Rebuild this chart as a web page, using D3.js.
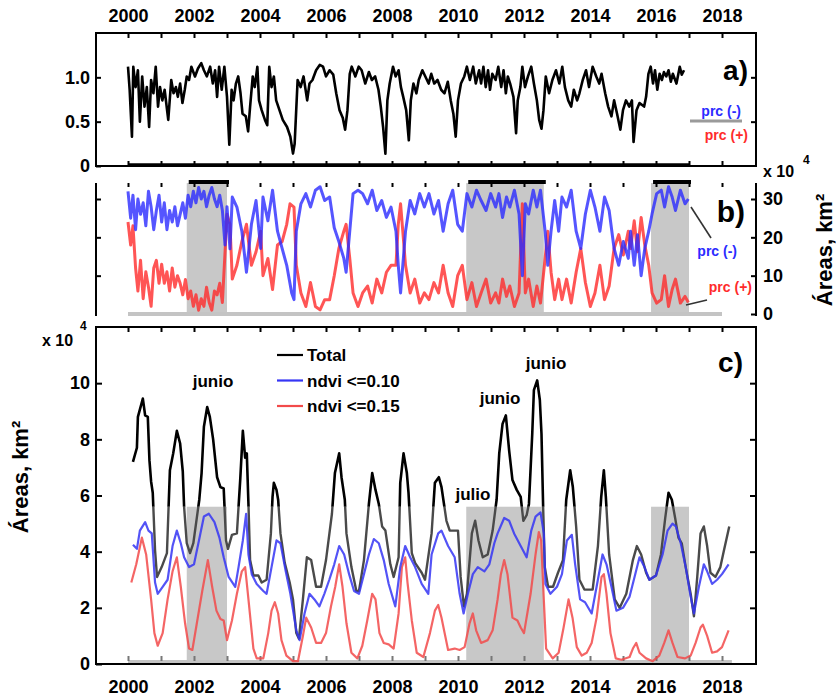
<!DOCTYPE html>
<html>
<head>
<meta charset="utf-8">
<script src="https://cdn.jsdelivr.net/npm/d3@7"></script>
<style>
  body { margin: 0; background: #fff; }
  svg { display: block; font-family: "Liberation Sans", Arial, sans-serif; font-weight: bold; }
</style>
</head>
<body>
<svg id="chart" width="836" height="698"></svg>
<script>
// ---- data ----------------------------------------------------------
const yearLabels = [2000, 2002, 2004, 2006, 2008, 2010, 2012, 2014, 2016, 2018];
const yearMarks = d3.range(2000, 2019);
const ratioTicks = [0, 0.5, 1.0];
const areaTicksB = [0, 10, 20, 30];
const areaTicksC = [0, 2, 4, 6, 8, 10];

// shaded periods [start, end]
const periods = [[2001.78, 2003.0], [2010.25, 2012.6], [2015.85, 2017.0]];

// panel a: ratio series
const ratio = [
  [2000.00,1.12],[2000.05,0.86],[2000.12,0.33],[2000.16,1.12],[2000.23,0.89],[2000.30,1.08],[2000.36,0.50],[2000.43,1.01],
  [2000.50,0.67],[2000.57,0.89],[2000.64,0.44],[2000.70,0.97],[2000.77,0.82],[2000.84,1.12],[2000.91,0.67],[2000.97,0.89],
  [2001.04,0.74],[2001.11,0.86],[2001.22,0.52],[2001.31,0.97],[2001.38,0.82],[2001.45,0.89],[2001.51,0.78],[2001.58,0.93],
  [2001.65,0.71],[2001.72,0.86],[2001.78,1.01],[2001.85,0.97],[2001.92,1.12],[2002.03,1.01],[2002.12,1.10],[2002.22,1.16],
  [2002.30,1.08],[2002.39,1.01],[2002.49,1.12],[2002.57,0.93],[2002.64,1.08],[2002.70,0.78],[2002.76,1.12],[2002.84,0.86],
  [2002.92,1.12],[2003.00,0.78],[2003.07,0.24],[2003.14,0.86],[2003.20,0.74],[2003.27,0.93],[2003.34,1.01],[2003.41,0.82],
  [2003.47,0.59],[2003.57,0.56],[2003.64,0.39],[2003.70,0.67],[2003.78,1.01],[2003.84,0.89],[2003.92,1.12],[2003.97,0.74],
  [2004.05,0.63],[2004.15,0.52],[2004.22,0.46],[2004.28,1.12],[2004.35,0.89],[2004.42,1.01],[2004.49,0.74],[2004.59,0.63],
  [2004.69,0.52],[2004.82,0.44],[2004.92,0.33],[2005.00,0.14],[2005.05,0.25],[2005.14,0.97],[2005.23,0.89],[2005.32,1.01],
  [2005.43,0.74],[2005.50,0.93],[2005.59,0.97],[2005.70,1.08],[2005.81,1.14],[2005.91,1.12],[2006.00,1.01],[2006.11,1.08],
  [2006.22,1.03],[2006.31,0.82],[2006.41,0.63],[2006.51,0.54],[2006.58,0.41],[2006.65,0.63],[2006.72,1.04],[2006.78,1.12],
  [2006.89,1.01],[2006.99,1.12],[2007.08,1.08],[2007.19,0.93],[2007.30,1.06],[2007.39,0.97],[2007.49,1.01],[2007.59,0.86],
  [2007.66,0.67],[2007.73,0.44],[2007.80,0.14],[2007.86,0.74],[2007.93,0.93],[2008.03,1.12],[2008.11,1.01],[2008.20,1.08],
  [2008.27,0.89],[2008.34,0.78],[2008.43,0.63],[2008.51,0.29],[2008.57,0.74],[2008.65,0.93],[2008.74,0.82],[2008.81,0.97],
  [2008.92,1.08],[2009.01,1.01],[2009.11,0.93],[2009.19,1.04],[2009.28,0.93],[2009.38,0.97],[2009.49,0.86],[2009.59,0.82],
  [2009.69,0.95],[2009.78,0.74],[2009.86,0.59],[2009.93,0.33],[2010.00,0.74],[2010.09,0.93],[2010.19,1.01],[2010.27,1.12],
  [2010.36,0.97],[2010.46,1.12],[2010.54,0.93],[2010.64,1.08],[2010.70,0.93],[2010.77,1.12],[2010.84,0.89],[2010.91,1.08],
  [2010.97,0.86],[2011.04,1.04],[2011.14,0.97],[2011.22,1.12],[2011.31,0.89],[2011.38,1.08],[2011.45,0.82],[2011.51,1.01],
  [2011.58,0.93],[2011.68,0.78],[2011.76,0.37],[2011.81,0.74],[2011.89,0.89],[2011.95,1.12],[2012.03,0.89],[2012.12,1.01],
  [2012.22,1.12],[2012.30,0.93],[2012.39,0.74],[2012.46,0.52],[2012.53,0.42],[2012.59,0.63],[2012.66,1.01],[2012.76,0.82],
  [2012.86,0.97],[2012.97,1.08],[2013.07,0.93],[2013.16,1.12],[2013.24,0.89],[2013.34,0.74],[2013.43,0.67],[2013.51,0.86],
  [2013.61,0.74],[2013.68,0.82],[2013.78,0.97],[2013.88,1.08],[2013.97,0.89],[2014.08,1.12],[2014.19,1.01],[2014.28,0.93],
  [2014.35,1.04],[2014.46,0.82],[2014.55,0.67],[2014.65,0.56],[2014.73,0.74],[2014.82,0.59],[2014.92,0.41],[2015.00,0.63],
  [2015.09,0.74],[2015.19,0.67],[2015.27,0.74],[2015.32,0.27],[2015.41,0.63],[2015.50,0.71],[2015.64,0.67],[2015.70,0.78],
  [2015.77,1.04],[2015.84,1.12],[2015.91,0.93],[2015.97,1.08],[2016.04,0.86],[2016.11,1.04],[2016.18,0.97],[2016.24,1.06],
  [2016.31,1.01],[2016.38,1.08],[2016.45,0.95],[2016.51,1.04],[2016.62,0.93],[2016.72,1.12],[2016.78,1.03],[2016.85,1.08]
];

// panel b: area (x 10^4 km2) with negative / positive precipitation anomaly
const prcNeg = [
  [2000.00,32],[2000.08,25],[2000.15,31],[2000.23,22],[2000.30,30],[2000.38,26],[2000.46,29],[2000.54,23],[2000.62,32],
  [2000.70,28],[2000.78,22],[2000.86,27],[2000.94,31],[2001.02,24],[2001.10,29],[2001.18,22],[2001.26,27],[2001.34,24],
  [2001.42,28],[2001.50,23],[2001.58,26],[2001.66,29],[2001.74,25],[2001.82,31],[2001.90,28],[2001.98,32],[2002.06,29],
  [2002.14,33],[2002.22,30],[2002.30,32],[2002.38,28],[2002.46,31],[2002.54,33],[2002.62,30],[2002.70,28],[2002.78,31],
  [2002.86,27],[2002.94,18],[2003.00,28],[2003.09,17],[2003.16,30.5],[2003.30,27.9],[2003.45,21.6],[2003.59,10.9],
  [2003.74,23.4],[2003.88,29.6],[2004.02,17.1],[2004.09,30.5],[2004.24,24.3],[2004.38,32.3],[2004.53,21.6],[2004.67,17.1],
  [2004.81,12.7],[2004.96,5.5],[2005.03,3.75],[2005.10,21.6],[2005.24,28.75],[2005.39,31.4],[2005.53,27.9],[2005.68,32.3],
  [2005.82,33.2],[2005.96,29.6],[2006.11,30.5],[2006.25,22.5],[2006.39,18.9],[2006.54,14.5],[2006.61,10.9],[2006.72,21.6],
  [2006.82,31.4],[2006.97,32.3],[2007.11,31.4],[2007.26,28.75],[2007.40,32.3],[2007.54,27.0],[2007.69,29.6],[2007.83,25.2],
  [2007.97,27.9],[2008.12,21.6],[2008.19,12.7],[2008.26,5.5],[2008.41,21.6],[2008.55,29.6],[2008.69,26.1],[2008.84,31.4],
  [2008.98,27.9],[2009.12,31.4],[2009.27,26.1],[2009.41,29.6],[2009.55,21.6],[2009.70,28.75],[2009.84,32.3],[2009.99,23.4],
  [2010.13,21.6],[2010.27,31.4],[2010.42,27.9],[2010.56,32.3],[2010.70,29.6],[2010.85,27.0],[2010.99,31.4],[2011.14,27.9],
  [2011.24,31.4],[2011.35,25.2],[2011.47,30.5],[2011.57,27.9],[2011.71,32.3],[2011.85,26.1],[2011.95,10.0],[2012.04,28.75],
  [2012.14,26.1],[2012.28,32.3],[2012.39,27.9],[2012.50,32.3],[2012.64,21.6],[2012.72,12.7],[2012.82,21.6],[2012.93,29.6],
  [2013.05,21.6],[2013.15,30.5],[2013.29,27.9],[2013.43,32.3],[2013.58,21.6],[2013.72,17.1],[2013.86,26.1],[2014.01,32.3],
  [2014.15,27.9],[2014.30,21.6],[2014.44,30.5],[2014.58,27.0],[2014.73,17.1],[2014.87,12.7],[2015.01,18.9],[2015.16,14.5],
  [2015.23,21.6],[2015.34,12.7],[2015.44,20.7],[2015.55,10.0],[2015.66,17.1],[2015.78,21.6],[2015.88,26.1],[2016.02,31.4],
  [2016.16,32.3],[2016.26,27.9],[2016.38,33.2],[2016.49,30.5],[2016.59,27.0],[2016.74,32.3],[2016.88,28.75],[2016.98,30]
];
const prcPos = [
  [2000.00,24],[2000.08,18],[2000.15,23],[2000.23,12],[2000.30,6],[2000.38,14],[2000.46,4],[2000.54,11],[2000.62,7],
  [2000.70,2],[2000.78,12],[2000.86,14],[2000.94,8],[2001.02,13],[2001.10,8],[2001.18,11],[2001.26,6],[2001.34,12],
  [2001.42,7],[2001.50,10],[2001.58,8],[2001.66,5],[2001.74,9],[2001.82,4],[2001.90,6],[2001.98,2],[2002.06,5],
  [2002.14,1],[2002.22,4],[2002.30,2],[2002.38,7],[2002.46,3],[2002.54,1],[2002.62,6],[2002.70,5],[2002.78,8],
  [2002.86,3],[2002.94,16],[2003.00,26],[2003.09,23.4],[2003.16,9.1],[2003.30,12.7],[2003.45,18.9],[2003.59,23.4],
  [2003.74,12.7],[2003.88,16.25],[2004.02,21.6],[2004.09,10.0],[2004.24,14.5],[2004.38,6.4],[2004.53,18.0],[2004.67,18.9],
  [2004.81,23.4],[2004.91,28.75],[2005.03,27.9],[2005.10,12.7],[2005.24,5.5],[2005.39,1.96],[2005.53,8.2],[2005.68,1.96],
  [2005.82,1.07],[2005.96,3.75],[2006.11,3.75],[2006.25,10.0],[2006.39,17.1],[2006.54,21.6],[2006.61,23.4],[2006.72,14.5],
  [2006.82,5.5],[2006.97,1.96],[2007.11,5.5],[2007.26,7.3],[2007.40,2.85],[2007.54,9.1],[2007.69,5.5],[2007.83,10.9],
  [2007.97,12.7],[2008.12,12.7],[2008.19,23.4],[2008.26,28.75],[2008.41,12.7],[2008.55,5.5],[2008.69,9.1],[2008.84,2.85],
  [2008.98,5.5],[2009.12,3.75],[2009.27,8.2],[2009.41,5.5],[2009.55,12.7],[2009.70,5.5],[2009.84,1.96],[2009.99,10.0],
  [2010.13,12.7],[2010.27,3.75],[2010.42,8.2],[2010.56,1.96],[2010.70,5.5],[2010.85,9.1],[2010.99,2.85],[2011.14,5.5],
  [2011.24,2.85],[2011.35,9.1],[2011.47,4.6],[2011.57,7.3],[2011.71,1.96],[2011.85,5.5],[2011.95,28.75],[2012.04,5.5],
  [2012.14,9.1],[2012.28,1.96],[2012.39,7.3],[2012.50,2.85],[2012.64,14.5],[2012.72,21.6],[2012.82,10.9],[2012.93,3.75],
  [2013.05,9.1],[2013.15,3.75],[2013.29,9.1],[2013.43,2.85],[2013.58,10.9],[2013.72,17.1],[2013.86,8.2],[2014.01,1.96],
  [2014.15,5.5],[2014.30,12.7],[2014.44,3.75],[2014.58,7.3],[2014.73,17.1],[2014.87,20.7],[2015.01,15.4],[2015.16,21.6],
  [2015.23,17.1],[2015.34,24.3],[2015.44,16.25],[2015.55,25.2],[2015.66,18.0],[2015.78,12.7],[2015.88,5.5],[2016.02,2.85],
  [2016.16,3.75],[2016.26,10.0],[2016.38,1.96],[2016.49,6.4],[2016.59,9.1],[2016.74,2.85],[2016.88,4.6],[2016.98,3]
];

// panel c: areas (x 10^4 km2)
const total = [
  [2000.15,7.2],[2000.27,7.7],[2000.3,8.8],[2000.45,9.45],[2000.52,8.85],[2000.6,8.8],[2000.65,7.25],[2000.7,6.5],
  [2000.75,6.1],[2000.82,4.05],[2000.88,3.1],[2001.02,3.45],[2001.18,3.95],[2001.27,6.9],[2001.37,7.5],[2001.48,8.3],
  [2001.58,7.85],[2001.66,6.85],[2001.7,5.6],[2001.78,4.3],[2001.88,3.95],[2001.98,4.3],[2002.16,5.85],[2002.23,6.8],
  [2002.3,8.45],[2002.4,9.15],[2002.48,8.8],[2002.58,8.0],[2002.7,6.65],[2002.8,6.3],[2002.9,6.25],[2002.97,4.4],
  [2003.03,4.1],[2003.15,4.6],[2003.3,4.65],[2003.4,6.55],[2003.48,8.3],[2003.55,7.35],[2003.6,7.5],[2003.65,5.7],
  [2003.7,3.7],[2003.8,3.15],[2003.95,3.15],[2004.05,2.9],[2004.2,3.0],[2004.33,4.65],[2004.38,5.95],[2004.42,6.45],
  [2004.5,6.2],[2004.55,5.85],[2004.62,4.65],[2004.75,3.6],[2004.9,2.9],[2005.0,2.3],[2005.1,1.1],[2005.18,0.9],
  [2005.3,2.3],[2005.42,3.8],[2005.55,3.7],[2005.7,2.75],[2005.85,2.75],[2006.0,3.7],[2006.18,5.35],[2006.27,6.8],
  [2006.4,7.5],[2006.47,6.65],[2006.57,5.85],[2006.62,4.65],[2006.77,3.45],[2006.92,2.6],[2007.0,2.6],[2007.15,3.7],
  [2007.3,5.7],[2007.4,6.8],[2007.5,6.2],[2007.6,5.7],[2007.7,4.9],[2007.8,4.75],[2007.95,3.55],[2008.05,3.1],
  [2008.2,3.8],[2008.25,6.45],[2008.35,7.5],[2008.45,6.8],[2008.5,6.1],[2008.6,3.95],[2008.7,3.6],[2008.9,3.25],
  [2009.0,3.0],[2009.2,4.65],[2009.3,6.45],[2009.42,6.65],[2009.5,6.3],[2009.65,5.1],[2009.75,4.75],[2010.0,4.75],
  [2010.08,3.1],[2010.18,2.05],[2010.27,2.5],[2010.42,4.65],[2010.52,5.1],[2010.62,4.4],[2010.75,3.8],[2010.9,3.9],
  [2011.05,4.75],[2011.17,5.85],[2011.25,7.5],[2011.35,8.55],[2011.45,8.85],[2011.55,7.6],[2011.65,6.55],[2011.78,6.2],
  [2011.9,5.95],[2011.98,5.1],[2012.08,5.3],[2012.15,5.7],[2012.25,8.2],[2012.3,9.75],[2012.4,10.1],[2012.48,9.4],
  [2012.53,8.2],[2012.58,5.6],[2012.63,3.45],[2012.73,2.75],[2012.88,2.75],[2013.03,3.25],[2013.18,3.7],[2013.28,5.85],
  [2013.4,6.9],[2013.48,6.3],[2013.58,4.9],[2013.68,3.0],[2013.83,2.65],[2014.08,2.65],[2014.24,4.2],[2014.34,5.95],
  [2014.42,6.9],[2014.48,5.95],[2014.58,3.9],[2014.75,2.3],[2014.9,2.0],[2015.1,2.5],[2015.3,3.7],[2015.42,4.2],
  [2015.55,3.9],[2015.7,3.25],[2015.8,3.0],[2016.0,3.15],[2016.15,3.9],[2016.28,5.2],[2016.38,6.1],[2016.48,5.85],
  [2016.58,5.2],[2016.68,4.5],[2016.78,4.3],[2016.9,3.45],[2017.05,2.5],[2017.15,1.7],[2017.25,3.1],[2017.35,4.65],
  [2017.45,4.9],[2017.55,4.2],[2017.65,3.25],[2017.8,3.1],[2017.95,3.45],[2018.05,4.0],[2018.22,4.9]
];
const ndvi010 = [
  [2000.15,4.25],[2000.27,4.1],[2000.36,4.75],[2000.52,5.05],[2000.62,4.75],[2000.72,4.65],[2000.82,2.9],[2000.9,2.5],
  [2001.05,2.75],[2001.2,3.0],[2001.35,4.2],[2001.48,4.75],[2001.6,4.3],[2001.7,3.8],[2001.85,3.45],[2002.0,3.55],
  [2002.15,4.4],[2002.3,5.25],[2002.45,5.35],[2002.62,5.05],[2002.77,4.5],[2002.9,3.8],[2003.05,3.1],[2003.25,2.75],
  [2003.35,3.45],[2003.48,4.4],[2003.58,5.35],[2003.65,3.9],[2003.75,3.2],[2003.9,2.85],[2004.1,2.6],[2004.2,2.5],
  [2004.35,3.45],[2004.5,4.4],[2004.62,4.3],[2004.78,3.3],[2004.92,2.5],[2005.1,1.2],[2005.2,0.85],[2005.35,1.8],
  [2005.5,2.5],[2005.65,2.3],[2005.8,2.05],[2005.95,2.5],[2006.1,3.0],[2006.25,3.55],[2006.4,4.2],[2006.55,3.9],
  [2006.7,3.2],[2006.85,2.6],[2007.0,2.5],[2007.15,3.2],[2007.3,3.9],[2007.45,4.45],[2007.6,4.3],[2007.75,3.7],
  [2007.9,2.85],[2008.1,2.05],[2008.25,3.45],[2008.4,4.2],[2008.55,3.8],[2008.7,3.45],[2008.9,2.85],[2009.1,2.5],
  [2009.2,3.9],[2009.4,4.65],[2009.5,4.75],[2009.7,4.2],[2009.9,3.8],[2010.05,2.5],[2010.17,1.8],[2010.3,2.5],
  [2010.45,3.2],[2010.6,3.45],[2010.8,3.3],[2010.95,3.55],[2011.1,4.3],[2011.2,4.65],[2011.4,5.2],[2011.55,5.1],
  [2011.7,4.65],[2011.9,4.2],[2012.08,3.8],[2012.22,4.75],[2012.35,5.25],[2012.5,5.4],[2012.6,4.65],[2012.65,2.85],
  [2012.8,2.5],[2013.0,2.75],[2013.15,3.2],[2013.3,4.4],[2013.45,4.6],[2013.55,3.55],[2013.7,2.3],[2013.85,2.2],
  [2014.05,1.8],[2014.2,2.75],[2014.38,3.9],[2014.5,3.55],[2014.65,2.75],[2014.8,1.9],[2015.0,2.0],[2015.2,2.4],
  [2015.35,3.1],[2015.5,3.8],[2015.65,3.45],[2015.8,3.0],[2016.0,3.15],[2016.2,3.9],[2016.35,4.75],[2016.5,5.0],
  [2016.6,4.9],[2016.75,4.3],[2016.9,3.45],[2017.05,2.4],[2017.15,1.8],[2017.3,2.75],[2017.45,3.55],[2017.55,3.3],
  [2017.7,2.85],[2017.85,3.0],[2018.0,3.2],[2018.2,3.55]
];
const ndvi015 = [
  [2000.1,2.9],[2000.25,3.55],[2000.42,4.5],[2000.55,3.9],[2000.7,2.3],[2000.8,1.1],[2000.9,0.65],[2001.05,1.1],
  [2001.2,2.3],[2001.35,3.3],[2001.48,3.8],[2001.6,2.75],[2001.73,1.45],[2001.85,0.55],[2001.95,0.5],[2002.1,1.55],
  [2002.25,2.6],[2002.42,3.7],[2002.55,2.75],[2002.68,1.9],[2002.8,1.6],[2002.9,1.55],[2003.0,0.85],[2003.15,1.55],
  [2003.3,2.5],[2003.45,3.3],[2003.55,3.45],[2003.65,2.3],[2003.8,0.55],[2003.9,0.2],[2004.1,0.2],[2004.25,1.1],
  [2004.35,1.9],[2004.45,2.2],[2004.55,1.8],[2004.65,0.85],[2004.8,0.3],[2005.0,0.1],[2005.15,0.1],[2005.3,1.0],
  [2005.4,1.65],[2005.55,1.3],[2005.7,0.75],[2005.85,0.75],[2006.0,1.1],[2006.15,2.05],[2006.28,2.75],[2006.4,3.55],
  [2006.5,2.75],[2006.62,1.45],[2006.77,0.4],[2006.95,0.2],[2007.1,0.65],[2007.25,1.55],[2007.4,2.5],[2007.5,2.3],
  [2007.62,1.1],[2007.75,0.75],[2007.9,0.7],[2008.05,0.55],[2008.2,1.8],[2008.3,3.45],[2008.4,3.8],[2008.47,2.9],
  [2008.6,1.55],[2008.75,0.4],[2008.95,0.25],[2009.15,1.1],[2009.3,1.9],[2009.4,2.1],[2009.5,1.65],[2009.7,0.5],
  [2009.9,0.55],[2010.05,0.5],[2010.2,0.6],[2010.35,1.45],[2010.45,1.8],[2010.55,1.2],[2010.7,0.75],[2010.9,0.85],
  [2011.05,1.2],[2011.2,2.3],[2011.3,3.2],[2011.4,3.7],[2011.5,3.2],[2011.65,1.65],[2011.8,1.55],[2011.9,1.3],
  [2012.0,1.1],[2012.2,2.5],[2012.35,3.9],[2012.45,4.7],[2012.52,4.4],[2012.6,2.3],[2012.67,0.55],[2012.87,0.2],
  [2013.05,0.4],[2013.2,1.3],[2013.35,2.3],[2013.47,1.65],[2013.6,0.6],[2013.75,0.3],[2013.9,0.4],[2014.05,0.75],
  [2014.2,1.65],[2014.35,3.1],[2014.42,3.2],[2014.5,2.5],[2014.62,1.1],[2014.78,0.2],[2014.95,0.15],[2015.2,0.25],
  [2015.3,0.55],[2015.4,0.75],[2015.5,0.4],[2015.7,0.2],[2015.9,0.1],[2016.1,0.3],[2016.25,0.75],[2016.38,1.2],
  [2016.5,0.75],[2016.65,0.25],[2016.88,0.2],[2017.05,0.3],[2017.2,0.75],[2017.35,1.3],[2017.42,1.4],[2017.55,1.0],
  [2017.7,0.4],[2017.85,0.45],[2018.0,0.6],[2018.2,1.2]
];

// ---- layout --------------------------------------------------------
const svg = d3.select("#chart");
const L = 96, R = 756;
const x = d3.scaleLinear().domain([2000, 2018]).range([128, 722]);

const A = { top: 33, bottom: 166 };
const B = { top: 183, bottom: 314 };
const C = { top: 327, bottom: 664 };

const ya = d3.scaleLinear().domain([0, 1.5]).range([A.bottom, A.top]);
const yb = d3.scaleLinear().domain([0, 30]).range([B.bottom, 199]);
const yc = d3.scaleLinear().domain([0, 12]).range([C.bottom, C.top]);

const BLUE = "#2b2bff", RED = "#ff2b2b", GRAY = "#c8c8c8";
const fontNum = 18;
const yearFmt = d3.format("d");

function styleAxis(g, size) {
  g.select(".domain").remove();
  g.selectAll(".tick line").attr("stroke", "#000").attr("stroke-width", 2);
  g.selectAll(".tick text").attr("font-size", size || fontNum).attr("font-weight", "bold")
    .attr("font-family", "Liberation Sans, Arial, sans-serif").attr("fill", "#000");
}

// ---- panel a -------------------------------------------------------
const gA = svg.append("g");
gA.append("path").datum(ratio)
  .attr("fill", "none").attr("stroke", "#000").attr("stroke-width", 2.6).attr("stroke-linejoin", "round")
  .attr("d", d3.line().x(d => x(d[0])).y(d => ya(d[1])));

gA.append("rect").attr("x", L).attr("y", A.top).attr("width", R - L).attr("height", A.bottom - A.top)
  .attr("fill", "none").attr("stroke", "#000").attr("stroke-width", 2);
// thick base along the observation span
gA.append("line").attr("x1", x(2000)).attr("x2", x(2017)).attr("y1", A.bottom - 1).attr("y2", A.bottom - 1)
  .attr("stroke", "#000").attr("stroke-width", 3.5);

gA.append("g").attr("transform", `translate(0,${A.top})`)
  .call(d3.axisTop(x).tickValues(yearMarks).tickSize(-5).tickPadding(11)
    .tickFormat(d => (d % 2 === 0 ? yearFmt(d) : "")))
  .call(g => styleAxis(g));
gA.append("g").attr("transform", `translate(0,${A.bottom})`)
  .call(d3.axisBottom(x).tickValues(yearMarks).tickSize(-5).tickFormat(""))
  .call(g => styleAxis(g));
gA.append("g").attr("transform", `translate(${L},0)`)
  .call(d3.axisLeft(ya).tickValues(ratioTicks).tickSize(-5).tickPadding(6)
    .tickFormat(d => (d === 0 ? "0" : d.toFixed(1))))
  .call(g => styleAxis(g));
gA.append("g").attr("transform", `translate(${R},0)`)
  .call(d3.axisRight(ya).tickValues(ratioTicks.slice(1)).tickSize(-5).tickFormat(""))
  .call(g => styleAxis(g));

gA.append("text").attr("x", 748).attr("y", 80).attr("text-anchor", "end")
  .attr("font-size", 28).text("a)");
gA.append("text").attr("x", 741).attr("y", 116).attr("text-anchor", "end")
  .attr("font-size", 14).attr("fill", BLUE).text("prc (-)");
gA.append("line").attr("x1", 690).attr("x2", 742).attr("y1", 121).attr("y2", 121)
  .attr("stroke", "#9a9a9a").attr("stroke-width", 3);
gA.append("text").attr("x", 748).attr("y", 140).attr("text-anchor", "end")
  .attr("font-size", 14).attr("fill", RED).text("prc (+)");

// ---- panel b -------------------------------------------------------
const gB = svg.append("g");
periods.forEach(p => {
  gB.append("rect").attr("x", x(p[0])).attr("y", B.top).attr("width", x(p[1]) - x(p[0]))
    .attr("height", B.bottom - B.top).attr("fill", GRAY);
  gB.append("rect").attr("x", x(p[0]) + 2).attr("y", B.top - 3).attr("width", x(p[1]) - x(p[0]))
    .attr("height", 4).attr("fill", "#000");
});
gB.append("line").attr("x1", x(2000)).attr("x2", x(2018)).attr("y1", B.bottom).attr("y2", B.bottom)
  .attr("stroke", "#c4c4c4").attr("stroke-width", 4);

const lineB = d3.line().x(d => x(d[0])).y(d => yb(d[1]));
gB.append("path").datum(prcPos).attr("fill", "none").attr("stroke", RED).attr("stroke-opacity", 0.8)
  .attr("stroke-width", 3).attr("stroke-linejoin", "round").attr("d", lineB);
gB.append("path").datum(prcNeg).attr("fill", "none").attr("stroke", BLUE).attr("stroke-opacity", 0.8)
  .attr("stroke-width", 3).attr("stroke-linejoin", "round").attr("d", lineB);

gB.append("g").attr("transform", `translate(0,${B.top})`)
  .call(d3.axisTop(x).tickValues(yearMarks).tickSize(-4).tickFormat(""))
  .call(g => styleAxis(g));
gB.append("line").attr("x1", L).attr("x2", L).attr("y1", B.top).attr("y2", B.bottom + 2)
  .attr("stroke", "#000").attr("stroke-width", 2);
gB.append("line").attr("x1", R).attr("x2", R).attr("y1", B.top).attr("y2", B.bottom + 2)
  .attr("stroke", "#000").attr("stroke-width", 2);
gB.append("g").attr("transform", `translate(${L},0)`)
  .call(d3.axisLeft(yb).tickValues(areaTicksB.slice(1)).tickSize(-5).tickFormat(""))
  .call(g => styleAxis(g));
gB.append("g").attr("transform", `translate(${R},0)`)
  .call(d3.axisRight(yb).tickValues(areaTicksB).tickSize(-5).tickPadding(7))
  .call(g => styleAxis(g));

gB.append("text").attr("x", 763).attr("y", 177).attr("font-size", 16).text("x 10");
gB.append("text").attr("x", 803).attr("y", 164).attr("font-size", 12).text("4");
gB.append("text").attr("transform", "translate(832,250) rotate(-90)").attr("text-anchor", "middle")
  .attr("font-size", 22).text("Áreas, km²");

gB.append("text").attr("x", 745).attr("y", 222).attr("text-anchor", "end").attr("font-size", 30).text("b)");
gB.append("line").attr("x1", 691).attr("y1", 207).attr("x2", 711).attr("y2", 238)
  .attr("stroke", "#333").attr("stroke-width", 1.6);
gB.append("text").attr("x", 737).attr("y", 256).attr("text-anchor", "end")
  .attr("font-size", 14).attr("fill", BLUE).text("prc (-)");
gB.append("text").attr("x", 752).attr("y", 292).attr("text-anchor", "end")
  .attr("font-size", 14).attr("fill", RED).text("prc (+)");
gB.append("line").attr("x1", 686).attr("y1", 305).attr("x2", 707).attr("y2", 300)
  .attr("stroke", "#333").attr("stroke-width", 1.6);

// ---- panel c -------------------------------------------------------
const gC = svg.append("g");
const split = 5.6;
periods.forEach(p => {
  gC.append("rect").attr("x", x(p[0])).attr("y", yc(split)).attr("width", x(p[1]) - x(p[0]))
    .attr("height", yc(0) - yc(split)).attr("fill", GRAY);
});
gC.append("line").attr("x1", x(2000)).attr("x2", x(2018.3)).attr("y1", C.bottom - 2).attr("y2", C.bottom - 2)
  .attr("stroke", "#c4c4c4").attr("stroke-width", 4);
gC.append("g").attr("transform", `translate(0,${C.bottom - 3})`)
  .call(d3.axisBottom(x).tickValues(yearMarks).tickSize(-5).tickFormat(""))
  .call(g => { styleAxis(g); g.selectAll(".tick line").attr("stroke", "#777"); });

const defs = svg.append("defs");
defs.append("clipPath").attr("id", "clip-hi").append("rect")
  .attr("x", L).attr("y", C.top).attr("width", R - L).attr("height", yc(split) - C.top);
defs.append("clipPath").attr("id", "clip-lo").append("rect")
  .attr("x", L).attr("y", yc(split)).attr("width", R - L).attr("height", C.bottom - yc(split));

const lineC = d3.line().x(d => x(d[0])).y(d => yc(d[1]));
gC.append("path").datum(ndvi015).attr("fill", "none").attr("stroke", "#f24a4a").attr("stroke-opacity", 0.85)
  .attr("stroke-width", 2.2).attr("stroke-linejoin", "round").attr("d", lineC);
gC.append("path").datum(total).attr("clip-path", "url(#clip-lo)").attr("fill", "none")
  .attr("stroke", "#4a4a4a").attr("stroke-width", 2.4).attr("stroke-linejoin", "round").attr("d", lineC);
gC.append("path").datum(ndvi010).attr("fill", "none").attr("stroke", "#3535f5").attr("stroke-opacity", 0.85)
  .attr("stroke-width", 2.2).attr("stroke-linejoin", "round").attr("d", lineC);
gC.append("path").datum(total).attr("clip-path", "url(#clip-hi)").attr("fill", "none")
  .attr("stroke", "#000").attr("stroke-width", 2.6).attr("stroke-linejoin", "round").attr("d", lineC);

gC.append("rect").attr("x", L).attr("y", C.top).attr("width", R - L).attr("height", C.bottom - C.top)
  .attr("fill", "none").attr("stroke", "#000").attr("stroke-width", 2);
gC.append("g").attr("transform", `translate(0,${C.top})`)
  .call(d3.axisBottom(x).tickValues(yearMarks).tickSize(5).tickFormat(""))
  .call(g => styleAxis(g));
gC.append("g").attr("transform", `translate(0,${C.bottom})`)
  .call(d3.axisBottom(x).tickValues(yearLabels).tickSize(0).tickPadding(16).tickFormat(yearFmt))
  .call(g => styleAxis(g));
gC.append("g").attr("transform", `translate(${L},0)`)
  .call(d3.axisLeft(yc).tickValues(areaTicksC).tickSize(-6).tickPadding(6))
  .call(g => styleAxis(g));
gC.append("g").attr("transform", `translate(${R},0)`)
  .call(d3.axisRight(yc).tickValues(areaTicksC.slice(1)).tickSize(-6).tickFormat(""))
  .call(g => styleAxis(g));

gC.append("text").attr("x", 42).attr("y", 346).attr("font-size", 16).text("x 10");
gC.append("text").attr("x", 80).attr("y", 330).attr("font-size", 12).text("4");
gC.append("text").attr("transform", "translate(28,477) rotate(-90)").attr("text-anchor", "middle")
  .attr("font-size", 22).text("Áreas, km²");
gC.append("text").attr("x", 743).attr("y", 372).attr("text-anchor", "end").attr("font-size", 28).text("c)");

// legend
const legend = [["Total", "#000"], ["ndvi <=0.10", "#3535f5"], ["ndvi <=0.15", "#f24a4a"]];
legend.forEach((d, i) => {
  const yy = 355 + i * 25.5;
  gC.append("line").attr("x1", 277).attr("x2", 303).attr("y1", yy).attr("y2", yy)
    .attr("stroke", d[1]).attr("stroke-width", 2.2);
  gC.append("text").attr("x", 307).attr("y", yy + 6).attr("font-size", 17).text(d[0]);
});

// month annotations on the largest peaks
const notes = [["junio", 213, 387], ["junio", 500, 404], ["junio", 546, 369], ["julio", 473, 500]];
notes.forEach(n => {
  gC.append("text").attr("x", n[1]).attr("y", n[2]).attr("text-anchor", "middle")
    .attr("font-size", 17).text(n[0]);
});
</script>
</body>
</html>
